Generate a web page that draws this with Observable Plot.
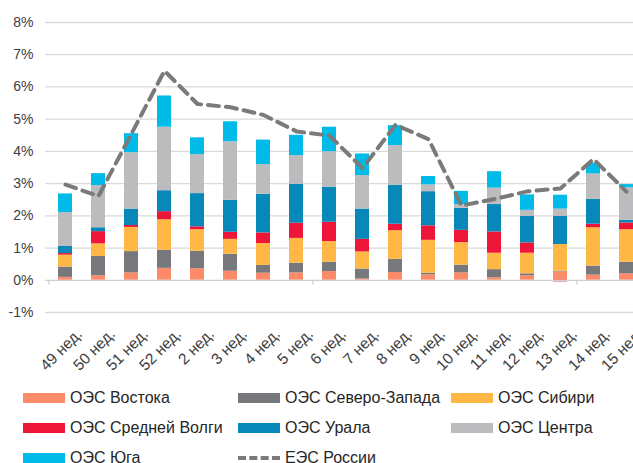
<!DOCTYPE html>
<html>
<head>
<meta charset="utf-8">
<script src="https://cdn.jsdelivr.net/npm/d3@7"></script>
<script src="https://cdn.jsdelivr.net/npm/@observablehq/plot@0.6"></script>
<style>
  html, body { margin: 0; padding: 0; background: #fff; overflow: hidden; }
  #wrap { position: relative; width: 633px; height: 463px; font-family: "Liberation Sans", Arial, sans-serif; }
  #legend { position: absolute; left: 0; top: 383px; width: 633px; font-size: 16px; color: #262626; }
  .row { display: flex; height: 30px; align-items: center; }
  .item { display: flex; align-items: center; white-space: nowrap; }
  .sw { width: 42px; height: 10px; margin-right: 5px; }
  .dash { width: 42px; height: 0; border-top: 4px dashed #7a7a7a; margin-right: 5px; }
</style>
</head>
<body>
<div id="wrap">
  <div id="chart"></div>
  <div id="legend"></div>
</div>
<script>
// Categories (weeks)
const weeks = ["49 нед.", "50 нед.", "51 нед.", "52 нед.", "2 нед.", "3 нед.", "4 нед.", "5 нед.", "6 нед.",
  "7 нед.", "8 нед.", "9 нед.", "10 нед.", "11 нед.", "12 нед.", "13 нед.", "14 нед.", "15 нед."];

// Series (contributions, %)
const seriesNames = ["ОЭС Востока", "ОЭС Северо-Запада", "ОЭС Сибири", "ОЭС Средней Волги", "ОЭС Урала", "ОЭС Центра", "ОЭС Юга"];
const seriesColors = ["#fd8a68", "#77787c", "#ffb845", "#ed1639", "#0788b9", "#bcbcbe", "#00bbe7"];

const vostok  = [0.09, 0.14, 0.23, 0.37, 0.36, 0.28, 0.22, 0.23, 0.27, 0.04, 0.24, 0.17, 0.23, 0.08, 0.14, 0.26, 0.16, 0.20];
const sevZap  = [0.32, 0.60, 0.66, 0.56, 0.54, 0.53, 0.24, 0.30, 0.29, 0.31, 0.41, 0.05, 0.24, 0.25, 0.06, 0.02, 0.28, 0.36];
const sibir   = [0.37, 0.39, 0.75, 0.95, 0.67, 0.46, 0.68, 0.77, 0.64, 0.53, 0.89, 1.02, 0.70, 0.51, 0.64, 0.83, 1.19, 1.01];
const srVolga = [0.05, 0.38, 0.06, 0.25, 0.09, 0.22, 0.33, 0.47, 0.60, 0.39, 0.20, 0.45, 0.38, 0.66, 0.32, -0.05, 0.11, 0.21];
const ural    = [0.22, 0.12, 0.51, 0.65, 1.03, 0.99, 1.20, 1.21, 1.09, 0.94, 1.21, 1.06, 0.68, 0.85, 0.83, 0.87, 0.77, 0.08];
const centr   = [1.05, 1.31, 1.75, 1.97, 1.21, 1.82, 0.92, 0.89, 1.10, 1.04, 1.23, 0.21, 0.12, 0.51, 0.18, 0.23, 0.79, 1.01];
const yug     = [0.58, 0.37, 0.59, 0.97, 0.52, 0.62, 0.76, 0.63, 0.76, 0.67, 0.62, 0.26, 0.41, 0.51, 0.48, 0.43, 0.33, 0.10];

// Total (line)
const ees = [2.97, 2.61, 4.55, 6.50, 5.47, 5.37, 5.13, 4.62, 4.49, 3.48, 4.82, 4.38, 2.32, 2.52, 2.76, 2.85, 3.76, 2.75];

const yTicks = [-1, 0, 1, 2, 3, 4, 5, 6, 7, 8];
const axisTickWeeks = ["49 нед.", "6 нед.", "14 нед."];

const seriesValues = [vostok, sevZap, sibir, srVolga, ural, centr, yug];
const barData = [];
seriesNames.forEach((s, si) => {
  weeks.forEach((w, wi) => barData.push({week: w, series: s, value: seriesValues[si][wi]}));
});
const lineData = weeks.map((w, i) => ({week: w, value: ees[i]}));

const W = 633, H = 385;
const step = (W + 12 - 45) / weeks.length;

const chart = Plot.plot({
  width: W,
  height: H,
  marginLeft: 45,
  marginRight: -12,
  marginTop: 22,
  marginBottom: 73,
  style: {fontFamily: "Liberation Sans, Arial, sans-serif", fontSize: "14px", color: "#404040", overflow: "visible"},
  x: {domain: weeks, paddingInner: 0.58, paddingOuter: 0.29, label: null},
  y: {domain: [-1, 8], ticks: yTicks, label: null},
  color: {domain: seriesNames, range: seriesColors},
  marks: [
    Plot.ruleY(yTicks.filter(d => d !== 0), {stroke: "#d9d9d9", strokeWidth: 1.3}),
    Plot.axisY({ticks: yTicks, tickSize: 0, tickPadding: 12, tickFormat: d => d + "%", fontSize: 14, fill: "#404040"}),
    Plot.axisX({tickSize: 0, tickRotate: -45, tickPadding: 0, dx: 14, dy: 19, fontSize: 15.5, fill: "#404040"}),
    Plot.barY(barData, {x: "week", y: "value", fill: "series", order: seriesNames}),
    Plot.ruleY([0], {stroke: "#cfcfcf", strokeWidth: 1.3}),
    Plot.ruleX(axisTickWeeks, {x: d => d, y1: 0, y2: -0.15, dx: -step / 2, stroke: "#cfcfcf", strokeWidth: 1.3}),
    Plot.line(lineData, {x: "week", y: "value", stroke: "#7a7a7a", strokeWidth: 4, strokeDasharray: "11 7", strokeLinecap: "round", strokeLinejoin: "round"})
  ]
});
document.getElementById("chart").appendChild(chart);

// Legend
const legendRows = [
  [{name: seriesNames[0], c: seriesColors[0]}, {name: seriesNames[1], c: seriesColors[1]}, {name: seriesNames[2], c: seriesColors[2]}],
  [{name: seriesNames[3], c: seriesColors[3]}, {name: seriesNames[4], c: seriesColors[4]}, {name: seriesNames[5], c: seriesColors[5]}],
  [{name: seriesNames[6], c: seriesColors[6]}, {name: "ЕЭС России", dash: true}]
];
const colX = [23, 238, 451];
const legend = document.getElementById("legend");
legendRows.forEach(row => {
  const r = document.createElement("div");
  r.className = "row";
  r.style.position = "relative";
  row.forEach((it, i) => {
    const d = document.createElement("div");
    d.className = "item";
    d.style.position = "absolute";
    d.style.left = colX[i] + "px";
    const sw = document.createElement("div");
    sw.className = it.dash ? "dash" : "sw";
    if (!it.dash) sw.style.background = it.c;
    const t = document.createElement("span");
    t.textContent = it.name;
    d.appendChild(sw); d.appendChild(t);
    r.appendChild(d);
  });
  legend.appendChild(r);
});
</script>
</body>
</html>
